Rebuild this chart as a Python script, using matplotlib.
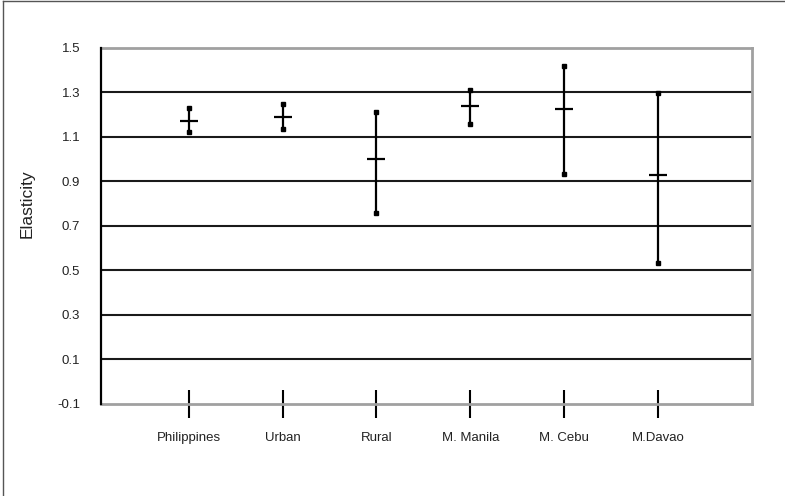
import matplotlib
matplotlib.use("Agg")
import matplotlib.pyplot as plt
from matplotlib.lines import Line2D

# --- DATA ---
categories = ["Philippines", "Urban", "Rural", "M. Manila", "M. Cebu", "M.Davao"]
high = [1.227, 1.246, 1.212, 1.309, 1.417, 1.294]
low = [1.119, 1.134, 0.757, 1.157, 0.931, 0.534]
close = [1.172, 1.190, 1.000, 1.236, 1.225, 0.928]
y_ticks = [-0.1, 0.1, 0.3, 0.5, 0.7, 0.9, 1.1, 1.3, 1.5]

plt.rcParams["font.family"] = ["Liberation Sans", "DejaVu Sans"]

fig = plt.figure(figsize=(7.85, 4.96), dpi=100)
ax = fig.add_axes([0.1287, 0.1855, 0.8293, 0.7187])

x = list(range(1, len(categories) + 1))

# gridlines (dark, Excel style)
for yv in y_ticks[1:-1]:
    ax.axhline(yv, color="#1a1a1a", lw=1.5, zorder=1)

# high-low bars with small square ends, close as a horizontal tick
for xi, hi, lo, cl in zip(x, high, low, close):
    ax.plot([xi, xi], [lo, hi], color="black", lw=1.6, zorder=3,
            solid_capstyle="butt")
    ax.plot([xi, xi], [lo, hi], ls="none", marker="s", ms=2.4,
            color="black", zorder=4)
    ax.plot([xi], [cl], marker="_", ms=13.5, mew=1.6, color="black", zorder=4)

ax.set_xlim(0.067, 7.0)
ax.set_ylim(-0.1, 1.5)
ax.set_yticks(y_ticks)
ax.set_yticklabels([f"{v:.1f}" for v in y_ticks])
ax.tick_params(axis="y", length=0, pad=15, labelsize=9.5, colors="#222222")

ax.set_xticks(x)
ax.set_xticklabels(categories)
ax.tick_params(axis="x", direction="inout", length=20, width=1.5,
               color="black", pad=10, labelsize=9.5, labelcolor="#222222")

for side in ["top", "right", "bottom"]:
    ax.spines[side].set_color("#a0a0a0")
    ax.spines[side].set_linewidth(2)
ax.spines["left"].set_color("black")
ax.spines["left"].set_linewidth(1.6)
ax.spines["left"].set_zorder(5)

fig.text(0.034, 0.59, "Elasticity", rotation=90, ha="center", va="center",
         fontsize=12.5, color="#222222")

# outer frame (only top and left edges visible in the crop)
fig.add_artist(Line2D([0.004, 0.004], [0, 0.997], transform=fig.transFigure,
                      color="#555555", lw=1))
fig.add_artist(Line2D([0.004, 1], [0.997, 0.997], transform=fig.transFigure,
                      color="#555555", lw=1))

fig.savefig("out.png", dpi=100)
